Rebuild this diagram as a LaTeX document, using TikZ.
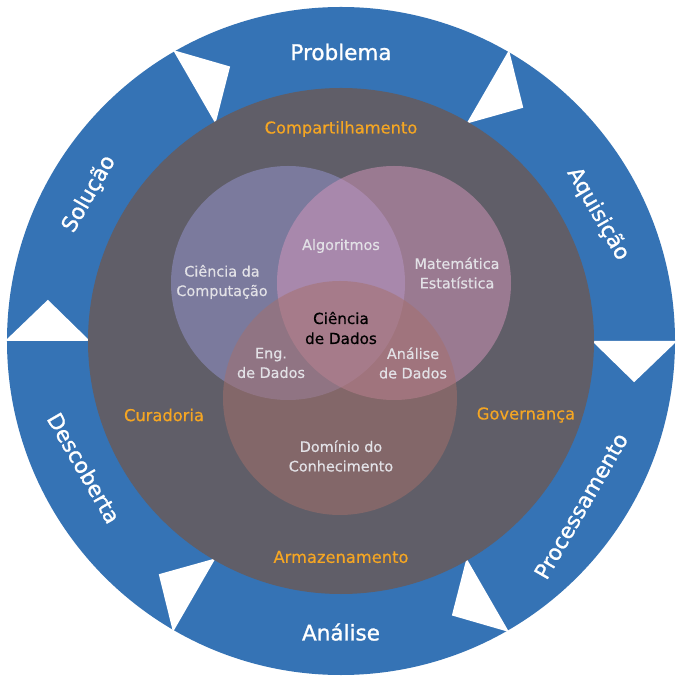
\documentclass[tikz,border=0pt]{standalone}
\usepackage{fontspec}
\setmainfont{DejaVu Sans}
\newfontfamily\ringfont[FakeBold=1.1]{DejaVu Sans}
\newfontfamily\innerfont[FakeBold=0.5]{DejaVu Sans}
\definecolor{ringblue}{HTML}{3573B5}
\definecolor{coregrey}{HTML}{605E68}
\definecolor{labelorange}{HTML}{F5A623}
\definecolor{venntext}{HTML}{E2E1E6}
\definecolor{vennL}{RGB}{151,150,211}
\definecolor{vennR}{RGB}{213,150,187}
\definecolor{vennB}{RGB}{166,112,106}
\tikzset{
  ringlabel/.style={text=white, inner sep=0pt, font=\ringfont\fontsize{21.5}{26}\selectfont},
  stagelabel/.style={text=labelorange, inner sep=0pt, font=\innerfont\fontsize{16.3}{20}\selectfont},
  vennlabel/.style={text=venntext, inner sep=0pt, align=center, font=\innerfont\fontsize{14.4}{19.5}\selectfont},
  corelabel/.style={text=black, inner sep=0pt, align=center, font=\innerfont\fontsize{15.2}{20}\selectfont},
  venncircle/.style={fill opacity=0.5}
}
\begin{document}
\begin{tikzpicture}[x=1pt,y=1pt]
\useasboundingbox (-341,-343) rectangle (341,341);
\fill[white] (-341,-343) rectangle (341,341);
% outer ring
\fill[ringblue] (0,0) circle (334);
% white arrow notches
\foreach \t in {0,60,120,180,240,300}{
  \fill[white] (\t:251) -- (\t:336) -- ({\t-8}:296) -- cycle;
}
% core disk
\fill[coregrey] (0,0) circle (253);
% venn circles
\fill[vennL, venncircle] (-53,58) circle (117);
\fill[vennR, venncircle] (53,58) circle (117);
\fill[vennB, venncircle] (-1,-57) circle (117);
% ring labels
\node[ringlabel] (problema) at (0,289) {Problema};
\node[ringlabel] (analise) at (0,-291) {Análise};
\node[ringlabel, rotate=60] (solucao) at (-252,147) {Solução};
\node[ringlabel, rotate=-60] (aquisicao) at (257,127) {Aquisição};
\node[ringlabel, rotate=-60] (descoberta) at (-257,-127) {Descoberta};
\node[ringlabel, rotate=60] (processamento) at (240,-165) {Processamento};
% stage labels
\node[stagelabel] (compart) at (0,212) {Compartilhamento};
\node[stagelabel] (armaz) at (0,-216) {Armazenamento};
\node[stagelabel] (curad) at (-177,-74) {Curadoria};
\node[stagelabel] (gov) at (185,-74) {Governança};
% venn labels
\node[vennlabel] (cc) at (-119,59) {Ciência da\\Computação};
\node[vennlabel] (alg) at (0,95) {Algoritmos};
\node[vennlabel] (mat) at (116,68) {Matemática\\Estatística};
\node[corelabel] (cd) at (0,13) {Ciência\\de Dados};
\node[vennlabel] (eng) at (-70,-22) {Eng.\\de Dados};
\node[vennlabel] (ad) at (72,-22) {Análise\\de Dados};
\node[vennlabel] (dom) at (0,-115) {Domínio do\\Conhecimento};
\end{tikzpicture}
\end{document}
